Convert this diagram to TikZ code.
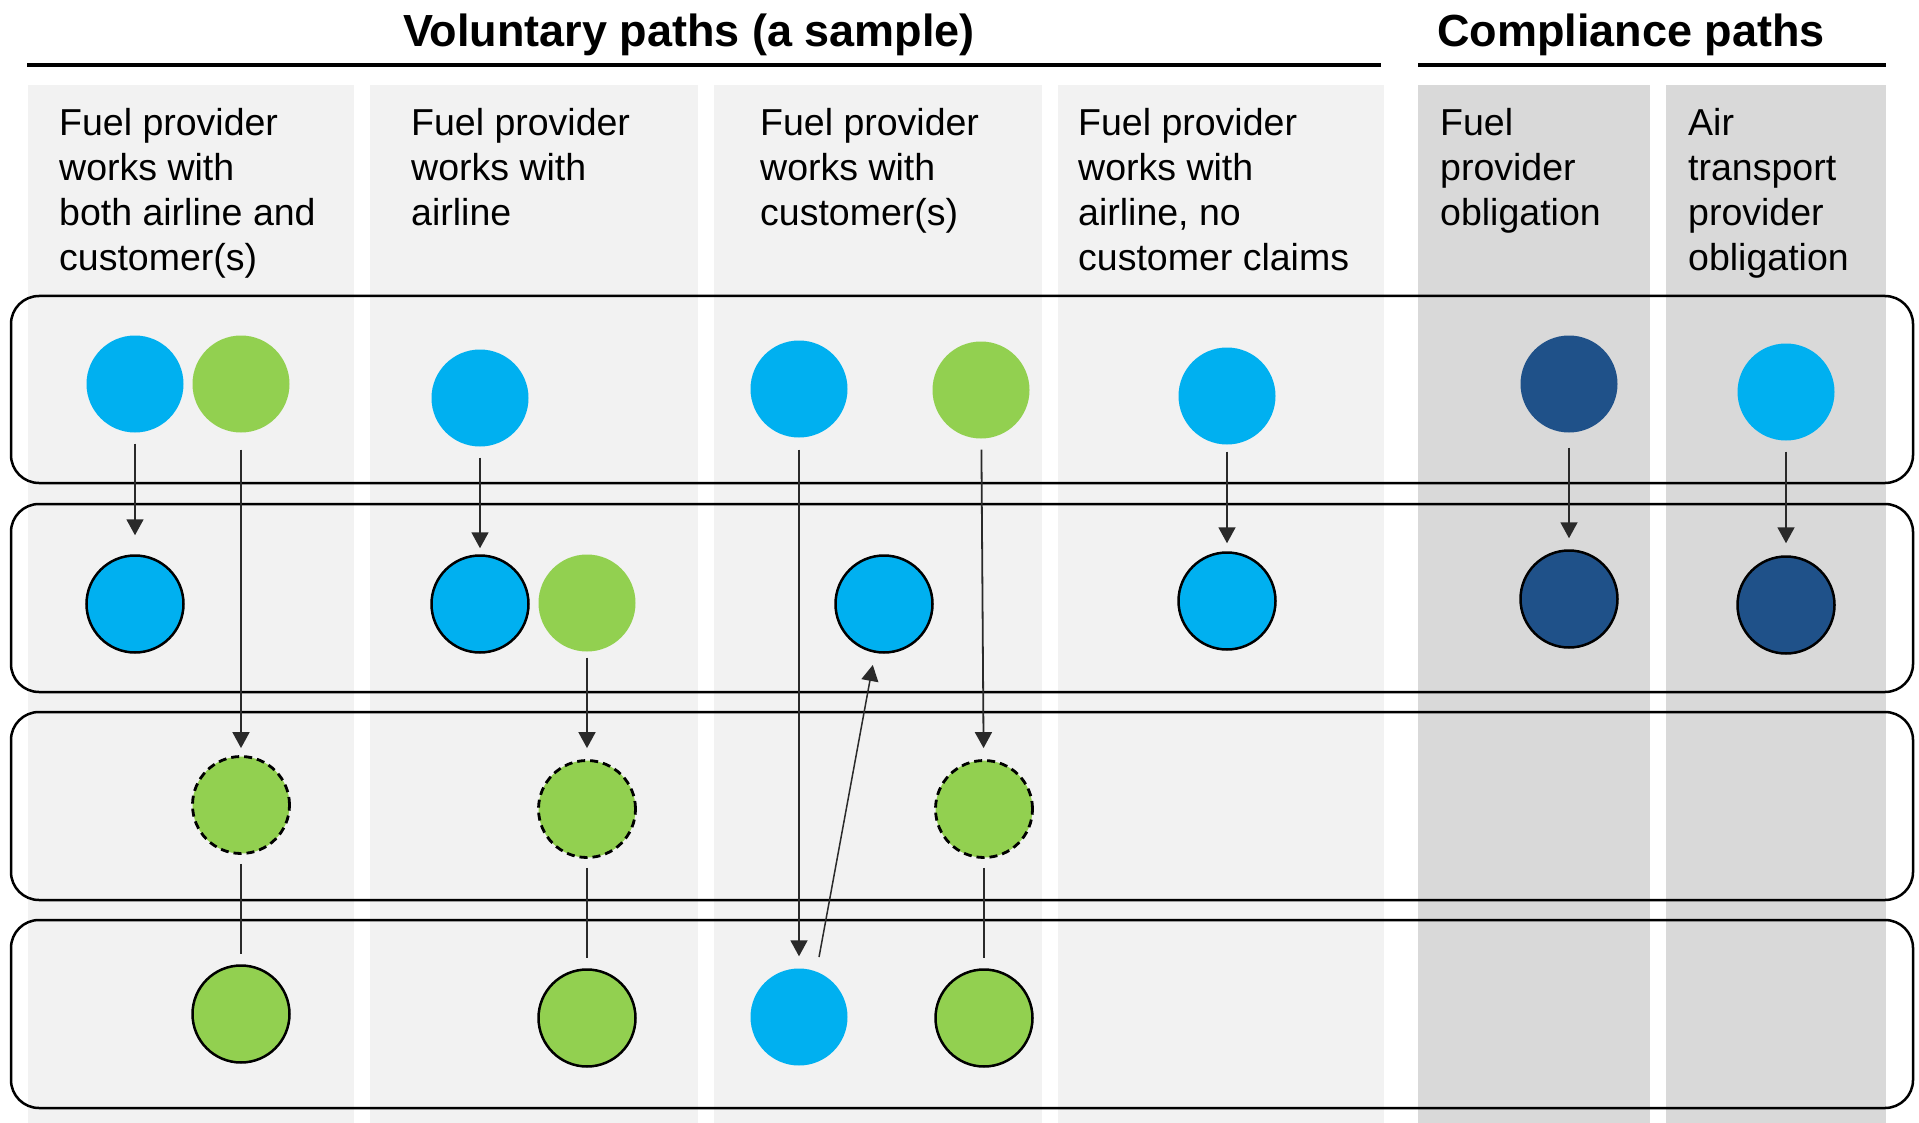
\documentclass[tikz,border=0pt]{standalone}
\usepackage{fontspec}
\setmainfont{Liberation Sans}
\usetikzlibrary{arrows.meta}
\definecolor{lb}{HTML}{00B0F0}
\definecolor{gr}{HTML}{92D050}
\definecolor{db}{HTML}{1F5189}
\definecolor{vbg}{HTML}{F2F2F2}
\definecolor{cbg}{HTML}{D9D9D9}
\definecolor{ln}{HTML}{2A2A2A}
\begin{document}
\begin{tikzpicture}[x=1pt,y=-1pt,
  dot/.style={circle,inner sep=0pt,minimum size=97pt},
  lbdot/.style={dot,fill=lb},
  grdot/.style={dot,fill=gr},
  dbdot/.style={dot,fill=db},
  ring/.style={draw=black,line width=2.5pt},
  dashring/.style={draw=black,line width=2.8pt,dash pattern=on 8pt off 5pt},
  arr/.style={draw=ln,line width=1.8pt,-{Triangle[width=17pt,length=16pt]}},
  lnk/.style={draw=ln,line width=1.8pt},
  rowbox/.style={draw=black,line width=2.5pt,rounded corners=28pt},
  hdr/.style={anchor=north west,inner sep=0pt,align=left,font=\fontsize{37.5}{45}\selectfont},
  ttl/.style={anchor=base,inner sep=0pt,font=\fontsize{45}{54}\selectfont\bfseries}
]
\useasboundingbox (0,0) rectangle (1919,1123);
\fill[white] (0,0) rectangle (1919,1123);
% column backgrounds
\fill[vbg] (28,85) rectangle (354,1123);
\fill[vbg] (370,85) rectangle (698,1123);
\fill[vbg] (714,85) rectangle (1042,1123);
\fill[vbg] (1058,85) rectangle (1384,1123);
\fill[cbg] (1418,85) rectangle (1650,1123);
\fill[cbg] (1666,85) rectangle (1886,1123);
% titles
\node[ttl] (t1) at (689,47) {Voluntary paths (a sample)};
\node[ttl] (t2) at (1631,47) {Compliance paths};
\draw[line width=4.5pt] (27,65) -- (1381,65);
\draw[line width=4.5pt] (1418,65) -- (1886,65);
% headers
\node[hdr] (h1) at (59,108) {Fuel provider\\works with\\both airline and\\customer(s)};
\node[hdr] (h2) at (411,108) {Fuel provider\\works with\\airline};
\node[hdr] (h3) at (760,108) {Fuel provider\\works with\\customer(s)};
\node[hdr] (h4) at (1078,108) {Fuel provider\\works with\\airline, no\\customer claims};
\node[hdr] (h5) at (1440,108) {Fuel\\provider\\obligation};
\node[hdr] (h6) at (1688,108) {Air\\transport\\provider\\obligation};
% row boxes
\draw[rowbox] (11,296) rectangle (1913,483);
\draw[rowbox] (11,504) rectangle (1913,692);
\draw[rowbox] (11,712) rectangle (1913,900);
\draw[rowbox] (11,920) rectangle (1913,1108);
% row 1
\node[lbdot] (a1) at (135,384) {};
\node[grdot] (g1) at (241,384) {};
\node[lbdot] (b1) at (480,398) {};
\node[lbdot] (c1) at (799,389) {};
\node[grdot] (k1) at (981,390) {};
\node[lbdot] (d1) at (1227,396) {};
\node[dbdot] (e1) at (1569,384) {};
\node[lbdot] (f1) at (1786,392) {};
% row 2
\node[lbdot,ring] (a2) at (135,604) {};
\node[lbdot,ring] (b2) at (480,604) {};
\node[grdot] (m2) at (587,603) {};
\node[lbdot,ring] (c2) at (884,604) {};
\node[lbdot,ring] (d2) at (1227,601) {};
\node[dbdot,ring] (e2) at (1569,599) {};
\node[dbdot,ring] (f2) at (1786,605) {};
% row 3
\node[grdot,dashring] (g3) at (241,805) {};
\node[grdot,dashring] (m3) at (587,809) {};
\node[grdot,dashring] (k3) at (984,809) {};
% row 4
\node[grdot,ring] (g4) at (241,1014) {};
\node[grdot,ring] (m4) at (587,1018) {};
\node[lbdot] (c4) at (799,1017) {};
\node[grdot,ring] (k4) at (984,1018) {};
% connectors
\draw[arr,shorten <=11pt,shorten >=19pt] (a1) -- (a2);
\draw[arr,shorten <=17pt,shorten >=7pt] (g1) -- (g3);
\draw[lnk,shorten <=9pt,shorten >=10pt] (g3) -- (g4);
\draw[arr,shorten <=11pt,shorten >=6pt] (b1) -- (b2);
\draw[arr,shorten <=6pt,shorten >=11pt] (m2) -- (m3);
\draw[lnk,shorten <=9pt,shorten >=10pt] (m3) -- (m4);
\draw[arr,shorten <=12pt,shorten >=12pt] (c1) -- (c4);
\draw[arr,shorten <=11pt,shorten >=11pt] (k1) -- (k3);
\draw[lnk,shorten <=9pt,shorten >=10pt] (k3) -- (k4);
\draw[arr,line width=1.5pt,shorten <=61pt,shorten >=62pt] ([xshift=9pt]c4.center) -- (c2.center);
\draw[arr,shorten <=7pt,shorten >=8pt] (d1) -- (d2);
\draw[arr,shorten <=15pt,shorten >=11pt] (e1) -- (e2);
\draw[arr,shorten <=11pt,shorten >=12pt] (f1) -- (f2);
\end{tikzpicture}
\end{document}
